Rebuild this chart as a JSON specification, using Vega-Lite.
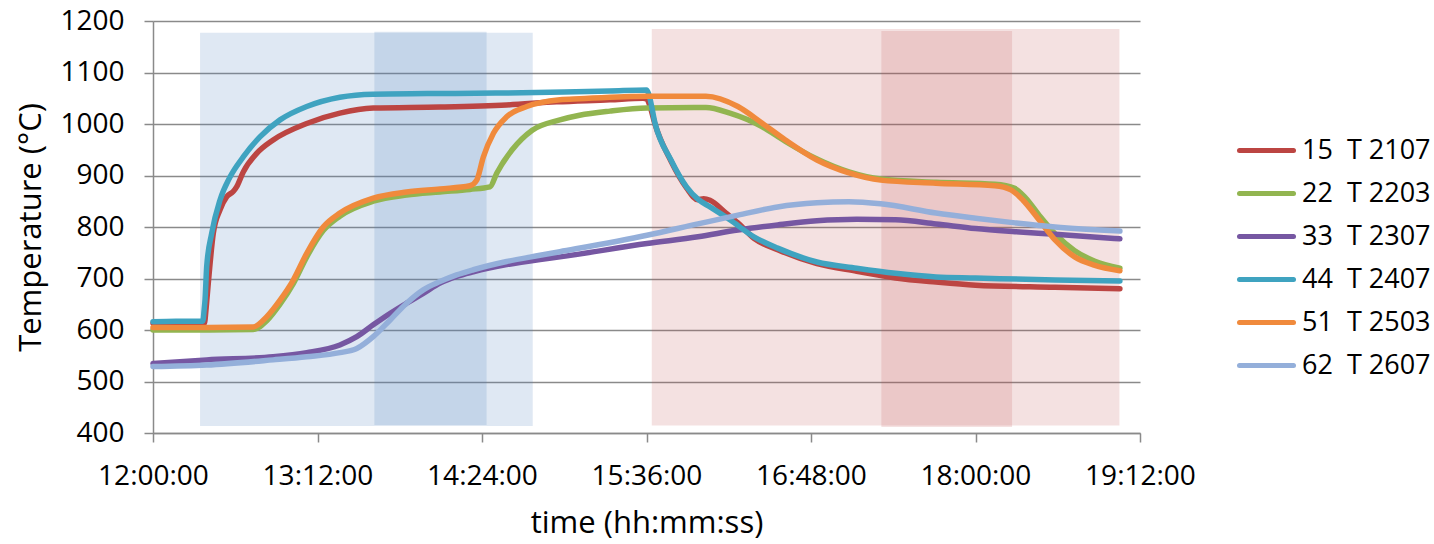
{
  "$schema": "https://vega.github.io/schema/vega-lite/v6.json",
  "width": 987,
  "height": 412,
  "autosize": {"type": "none"},
  "padding": {"left": 153, "top": 21, "right": 294, "bottom": 111},
  "background": "white",
  "config": {
    "view": {"stroke": null},
    "font": "Open Sans",
    "axis": {
      "labelFont": "Open Sans",
      "titleFont": "Open Sans",
      "labelFontSize": 28,
      "titleFontSize": 31,
      "titleFontWeight": "normal",
      "labelColor": "#000000",
      "titleColor": "#000000",
      "domainColor": "#8a8a8a",
      "domainWidth": 1.5,
      "tickColor": "#8a8a8a",
      "tickWidth": 1.5,
      "tickSize": 9,
      "labelPadding": 20,
      "gridColor": "#8a8a8a",
      "gridWidth": 1.4,
      "labelOverlap": false,
      "labelFlush": false
    },
    "legend": {
      "labelFont": "Open Sans",
      "labelFontSize": 27,
      "labelColor": "#000000",
      "labelLimit": 400
    }
  },
  "datasets": {
    "zones": [
      {"zone": "heat", "t0": 20.6, "t1": 166.2, "lo": 413.6, "hi": 1177},
      {"zone": "heatcore", "t0": 96.9, "t1": 146.0, "lo": 415.5, "hi": 1179},
      {"zone": "cool", "t0": 218.3, "t1": 423, "lo": 414.4, "hi": 1184.5},
      {"zone": "coolcore", "t0": 318.8, "t1": 376, "lo": 411.7, "hi": 1180.6}
    ],
    "temps": [
      {"s": "15\u00a0\u00a0T 2107", "t": 0, "v": 613},
      {"s": "15\u00a0\u00a0T 2107", "t": 10, "v": 613},
      {"s": "15\u00a0\u00a0T 2107", "t": 22.5, "v": 613},
      {"s": "15\u00a0\u00a0T 2107", "t": 23.2, "v": 640},
      {"s": "15\u00a0\u00a0T 2107", "t": 24.2, "v": 691},
      {"s": "15\u00a0\u00a0T 2107", "t": 26.4, "v": 788},
      {"s": "15\u00a0\u00a0T 2107", "t": 29.3, "v": 833},
      {"s": "15\u00a0\u00a0T 2107", "t": 32.3, "v": 859},
      {"s": "15\u00a0\u00a0T 2107", "t": 35.1, "v": 869},
      {"s": "15\u00a0\u00a0T 2107", "t": 36.6, "v": 878},
      {"s": "15\u00a0\u00a0T 2107", "t": 39.5, "v": 907},
      {"s": "15\u00a0\u00a0T 2107", "t": 45.4, "v": 943},
      {"s": "15\u00a0\u00a0T 2107", "t": 52.6, "v": 969},
      {"s": "15\u00a0\u00a0T 2107", "t": 67.3, "v": 1001},
      {"s": "15\u00a0\u00a0T 2107", "t": 81.8, "v": 1021},
      {"s": "15\u00a0\u00a0T 2107", "t": 96.4, "v": 1031},
      {"s": "15\u00a0\u00a0T 2107", "t": 125.6, "v": 1033},
      {"s": "15\u00a0\u00a0T 2107", "t": 154.8, "v": 1037},
      {"s": "15\u00a0\u00a0T 2107", "t": 176.7, "v": 1043},
      {"s": "15\u00a0\u00a0T 2107", "t": 200, "v": 1047},
      {"s": "15\u00a0\u00a0T 2107", "t": 214.5, "v": 1050},
      {"s": "15\u00a0\u00a0T 2107", "t": 216, "v": 1049},
      {"s": "15\u00a0\u00a0T 2107", "t": 217.5, "v": 1035},
      {"s": "15\u00a0\u00a0T 2107", "t": 219.7, "v": 1000},
      {"s": "15\u00a0\u00a0T 2107", "t": 226.7, "v": 928},
      {"s": "15\u00a0\u00a0T 2107", "t": 233.5, "v": 876},
      {"s": "15\u00a0\u00a0T 2107", "t": 238.5, "v": 853},
      {"s": "15\u00a0\u00a0T 2107", "t": 241, "v": 855},
      {"s": "15\u00a0\u00a0T 2107", "t": 243.8, "v": 852},
      {"s": "15\u00a0\u00a0T 2107", "t": 250.8, "v": 827},
      {"s": "15\u00a0\u00a0T 2107", "t": 256, "v": 808},
      {"s": "15\u00a0\u00a0T 2107", "t": 263, "v": 778},
      {"s": "15\u00a0\u00a0T 2107", "t": 273.4, "v": 756},
      {"s": "15\u00a0\u00a0T 2107", "t": 290.6, "v": 729},
      {"s": "15\u00a0\u00a0T 2107", "t": 308, "v": 714},
      {"s": "15\u00a0\u00a0T 2107", "t": 325, "v": 701},
      {"s": "15\u00a0\u00a0T 2107", "t": 342.7, "v": 693},
      {"s": "15\u00a0\u00a0T 2107", "t": 360, "v": 687},
      {"s": "15\u00a0\u00a0T 2107", "t": 394.8, "v": 683},
      {"s": "15\u00a0\u00a0T 2107", "t": 423.2, "v": 680},

      {"s": "22\u00a0\u00a0T 2203", "t": 0, "v": 600},
      {"s": "22\u00a0\u00a0T 2203", "t": 20, "v": 600},
      {"s": "22\u00a0\u00a0T 2203", "t": 43.8, "v": 601},
      {"s": "22\u00a0\u00a0T 2203", "t": 49.8, "v": 618},
      {"s": "22\u00a0\u00a0T 2203", "t": 55.6, "v": 650},
      {"s": "22\u00a0\u00a0T 2203", "t": 61.4, "v": 690},
      {"s": "22\u00a0\u00a0T 2203", "t": 67.3, "v": 742},
      {"s": "22\u00a0\u00a0T 2203", "t": 74.5, "v": 793},
      {"s": "22\u00a0\u00a0T 2203", "t": 81.8, "v": 821},
      {"s": "22\u00a0\u00a0T 2203", "t": 96.4, "v": 850},
      {"s": "22\u00a0\u00a0T 2203", "t": 111, "v": 862},
      {"s": "22\u00a0\u00a0T 2203", "t": 125.6, "v": 868},
      {"s": "22\u00a0\u00a0T 2203", "t": 138.7, "v": 873},
      {"s": "22\u00a0\u00a0T 2203", "t": 147.5, "v": 878},
      {"s": "22\u00a0\u00a0T 2203", "t": 150.5, "v": 905},
      {"s": "22\u00a0\u00a0T 2203", "t": 157.2, "v": 950},
      {"s": "22\u00a0\u00a0T 2203", "t": 166, "v": 988},
      {"s": "22\u00a0\u00a0T 2203", "t": 178.1, "v": 1008},
      {"s": "22\u00a0\u00a0T 2203", "t": 186.7, "v": 1017},
      {"s": "22\u00a0\u00a0T 2203", "t": 200, "v": 1025},
      {"s": "22\u00a0\u00a0T 2203", "t": 216.2, "v": 1031},
      {"s": "22\u00a0\u00a0T 2203", "t": 242, "v": 1032},
      {"s": "22\u00a0\u00a0T 2203", "t": 252.5, "v": 1021},
      {"s": "22\u00a0\u00a0T 2203", "t": 266.5, "v": 995},
      {"s": "22\u00a0\u00a0T 2203", "t": 276.8, "v": 966},
      {"s": "22\u00a0\u00a0T 2203", "t": 290.6, "v": 932},
      {"s": "22\u00a0\u00a0T 2203", "t": 304.6, "v": 907},
      {"s": "22\u00a0\u00a0T 2203", "t": 318.5, "v": 893},
      {"s": "22\u00a0\u00a0T 2203", "t": 342.7, "v": 887},
      {"s": "22\u00a0\u00a0T 2203", "t": 368.5, "v": 883},
      {"s": "22\u00a0\u00a0T 2203", "t": 377.2, "v": 875},
      {"s": "22\u00a0\u00a0T 2203", "t": 382, "v": 856},
      {"s": "22\u00a0\u00a0T 2203", "t": 388, "v": 822},
      {"s": "22\u00a0\u00a0T 2203", "t": 395, "v": 786},
      {"s": "22\u00a0\u00a0T 2203", "t": 403.4, "v": 754},
      {"s": "22\u00a0\u00a0T 2203", "t": 412, "v": 734},
      {"s": "22\u00a0\u00a0T 2203", "t": 423.2, "v": 720},

      {"s": "33\u00a0\u00a0T 2307", "t": 0, "v": 535},
      {"s": "33\u00a0\u00a0T 2307", "t": 23.5, "v": 542},
      {"s": "33\u00a0\u00a0T 2307", "t": 52.6, "v": 548},
      {"s": "33\u00a0\u00a0T 2307", "t": 67.3, "v": 556},
      {"s": "33\u00a0\u00a0T 2307", "t": 81.8, "v": 571},
      {"s": "33\u00a0\u00a0T 2307", "t": 89.2, "v": 587},
      {"s": "33\u00a0\u00a0T 2307", "t": 96.4, "v": 610},
      {"s": "33\u00a0\u00a0T 2307", "t": 103.7, "v": 632},
      {"s": "33\u00a0\u00a0T 2307", "t": 111, "v": 652},
      {"s": "33\u00a0\u00a0T 2307", "t": 118.3, "v": 671},
      {"s": "33\u00a0\u00a0T 2307", "t": 125.6, "v": 691},
      {"s": "33\u00a0\u00a0T 2307", "t": 132.9, "v": 704},
      {"s": "33\u00a0\u00a0T 2307", "t": 140.2, "v": 713},
      {"s": "33\u00a0\u00a0T 2307", "t": 154.8, "v": 727},
      {"s": "33\u00a0\u00a0T 2307", "t": 169.4, "v": 737},
      {"s": "33\u00a0\u00a0T 2307", "t": 178.1, "v": 742},
      {"s": "33\u00a0\u00a0T 2307", "t": 216.2, "v": 768},
      {"s": "33\u00a0\u00a0T 2307", "t": 238.5, "v": 781},
      {"s": "33\u00a0\u00a0T 2307", "t": 256, "v": 794},
      {"s": "33\u00a0\u00a0T 2307", "t": 273.4, "v": 804},
      {"s": "33\u00a0\u00a0T 2307", "t": 290.6, "v": 812},
      {"s": "33\u00a0\u00a0T 2307", "t": 308, "v": 815},
      {"s": "33\u00a0\u00a0T 2307", "t": 325, "v": 814},
      {"s": "33\u00a0\u00a0T 2307", "t": 342.7, "v": 806},
      {"s": "33\u00a0\u00a0T 2307", "t": 360, "v": 797},
      {"s": "33\u00a0\u00a0T 2307", "t": 377.3, "v": 791},
      {"s": "33\u00a0\u00a0T 2307", "t": 394.8, "v": 786},
      {"s": "33\u00a0\u00a0T 2307", "t": 423.2, "v": 777},

      {"s": "44\u00a0\u00a0T 2407", "t": 0, "v": 616},
      {"s": "44\u00a0\u00a0T 2407", "t": 10, "v": 617},
      {"s": "44\u00a0\u00a0T 2407", "t": 21.8, "v": 617},
      {"s": "44\u00a0\u00a0T 2407", "t": 22.4, "v": 640},
      {"s": "44\u00a0\u00a0T 2407", "t": 22.8, "v": 660},
      {"s": "44\u00a0\u00a0T 2407", "t": 23.5, "v": 723},
      {"s": "44\u00a0\u00a0T 2407", "t": 25.7, "v": 788},
      {"s": "44\u00a0\u00a0T 2407", "t": 29.3, "v": 852},
      {"s": "44\u00a0\u00a0T 2407", "t": 33.7, "v": 897},
      {"s": "44\u00a0\u00a0T 2407", "t": 39.5, "v": 936},
      {"s": "44\u00a0\u00a0T 2407", "t": 46.8, "v": 975},
      {"s": "44\u00a0\u00a0T 2407", "t": 55.6, "v": 1008},
      {"s": "44\u00a0\u00a0T 2407", "t": 67.3, "v": 1034},
      {"s": "44\u00a0\u00a0T 2407", "t": 81.8, "v": 1052},
      {"s": "44\u00a0\u00a0T 2407", "t": 96.4, "v": 1058},
      {"s": "44\u00a0\u00a0T 2407", "t": 120, "v": 1059},
      {"s": "44\u00a0\u00a0T 2407", "t": 150, "v": 1060},
      {"s": "44\u00a0\u00a0T 2407", "t": 180, "v": 1062},
      {"s": "44\u00a0\u00a0T 2407", "t": 200, "v": 1064},
      {"s": "44\u00a0\u00a0T 2407", "t": 216, "v": 1066},
      {"s": "44\u00a0\u00a0T 2407", "t": 217, "v": 1058},
      {"s": "44\u00a0\u00a0T 2407", "t": 219.7, "v": 1002},
      {"s": "44\u00a0\u00a0T 2407", "t": 226.7, "v": 930},
      {"s": "44\u00a0\u00a0T 2407", "t": 233.5, "v": 878},
      {"s": "44\u00a0\u00a0T 2407", "t": 238.5, "v": 854},
      {"s": "44\u00a0\u00a0T 2407", "t": 243.8, "v": 839},
      {"s": "44\u00a0\u00a0T 2407", "t": 252.5, "v": 814},
      {"s": "44\u00a0\u00a0T 2407", "t": 263, "v": 781},
      {"s": "44\u00a0\u00a0T 2407", "t": 273.4, "v": 759},
      {"s": "44\u00a0\u00a0T 2407", "t": 290.6, "v": 732},
      {"s": "44\u00a0\u00a0T 2407", "t": 308, "v": 720},
      {"s": "44\u00a0\u00a0T 2407", "t": 325, "v": 710},
      {"s": "44\u00a0\u00a0T 2407", "t": 342.7, "v": 703},
      {"s": "44\u00a0\u00a0T 2407", "t": 360, "v": 701},
      {"s": "44\u00a0\u00a0T 2407", "t": 394.8, "v": 697},
      {"s": "44\u00a0\u00a0T 2407", "t": 423.2, "v": 695},

      {"s": "51\u00a0\u00a0T 2503", "t": 0, "v": 605},
      {"s": "51\u00a0\u00a0T 2503", "t": 20, "v": 605},
      {"s": "51\u00a0\u00a0T 2503", "t": 43.8, "v": 606},
      {"s": "51\u00a0\u00a0T 2503", "t": 49.8, "v": 626},
      {"s": "51\u00a0\u00a0T 2503", "t": 55.6, "v": 658},
      {"s": "51\u00a0\u00a0T 2503", "t": 61.4, "v": 697},
      {"s": "51\u00a0\u00a0T 2503", "t": 67.3, "v": 749},
      {"s": "51\u00a0\u00a0T 2503", "t": 74.5, "v": 800},
      {"s": "51\u00a0\u00a0T 2503", "t": 81.8, "v": 827},
      {"s": "51\u00a0\u00a0T 2503", "t": 96.4, "v": 856},
      {"s": "51\u00a0\u00a0T 2503", "t": 111, "v": 868},
      {"s": "51\u00a0\u00a0T 2503", "t": 125.6, "v": 874},
      {"s": "51\u00a0\u00a0T 2503", "t": 138.7, "v": 880},
      {"s": "51\u00a0\u00a0T 2503", "t": 141.7, "v": 891},
      {"s": "51\u00a0\u00a0T 2503", "t": 144.6, "v": 936},
      {"s": "51\u00a0\u00a0T 2503", "t": 149, "v": 982},
      {"s": "51\u00a0\u00a0T 2503", "t": 154.8, "v": 1014},
      {"s": "51\u00a0\u00a0T 2503", "t": 163.6, "v": 1034},
      {"s": "51\u00a0\u00a0T 2503", "t": 178.1, "v": 1047},
      {"s": "51\u00a0\u00a0T 2503", "t": 186.7, "v": 1049},
      {"s": "51\u00a0\u00a0T 2503", "t": 216.2, "v": 1054},
      {"s": "51\u00a0\u00a0T 2503", "t": 242, "v": 1054},
      {"s": "51\u00a0\u00a0T 2503", "t": 256, "v": 1034},
      {"s": "51\u00a0\u00a0T 2503", "t": 266.5, "v": 1002},
      {"s": "51\u00a0\u00a0T 2503", "t": 276.8, "v": 969},
      {"s": "51\u00a0\u00a0T 2503", "t": 290.6, "v": 930},
      {"s": "51\u00a0\u00a0T 2503", "t": 304.6, "v": 905},
      {"s": "51\u00a0\u00a0T 2503", "t": 318.5, "v": 891},
      {"s": "51\u00a0\u00a0T 2503", "t": 342.7, "v": 885},
      {"s": "51\u00a0\u00a0T 2503", "t": 368.5, "v": 880},
      {"s": "51\u00a0\u00a0T 2503", "t": 375.5, "v": 872},
      {"s": "51\u00a0\u00a0T 2503", "t": 380.8, "v": 852},
      {"s": "51\u00a0\u00a0T 2503", "t": 387.8, "v": 814},
      {"s": "51\u00a0\u00a0T 2503", "t": 394.8, "v": 775},
      {"s": "51\u00a0\u00a0T 2503", "t": 403.4, "v": 742},
      {"s": "51\u00a0\u00a0T 2503", "t": 411.9, "v": 726},
      {"s": "51\u00a0\u00a0T 2503", "t": 423.2, "v": 715},

      {"s": "62\u00a0\u00a0T 2607", "t": 0, "v": 529},
      {"s": "62\u00a0\u00a0T 2607", "t": 23.5, "v": 532},
      {"s": "62\u00a0\u00a0T 2607", "t": 52.6, "v": 542},
      {"s": "62\u00a0\u00a0T 2607", "t": 67.3, "v": 548},
      {"s": "62\u00a0\u00a0T 2607", "t": 81.8, "v": 556},
      {"s": "62\u00a0\u00a0T 2607", "t": 89.2, "v": 564},
      {"s": "62\u00a0\u00a0T 2607", "t": 96.4, "v": 587},
      {"s": "62\u00a0\u00a0T 2607", "t": 103.7, "v": 619},
      {"s": "62\u00a0\u00a0T 2607", "t": 111, "v": 652},
      {"s": "62\u00a0\u00a0T 2607", "t": 118.3, "v": 678},
      {"s": "62\u00a0\u00a0T 2607", "t": 125.6, "v": 694},
      {"s": "62\u00a0\u00a0T 2607", "t": 132.9, "v": 707},
      {"s": "62\u00a0\u00a0T 2607", "t": 140.2, "v": 717},
      {"s": "62\u00a0\u00a0T 2607", "t": 154.8, "v": 733},
      {"s": "62\u00a0\u00a0T 2607", "t": 169.4, "v": 745},
      {"s": "62\u00a0\u00a0T 2607", "t": 178.1, "v": 752},
      {"s": "62\u00a0\u00a0T 2607", "t": 216.2, "v": 784},
      {"s": "62\u00a0\u00a0T 2607", "t": 238.5, "v": 806},
      {"s": "62\u00a0\u00a0T 2607", "t": 256, "v": 823},
      {"s": "62\u00a0\u00a0T 2607", "t": 273.4, "v": 839},
      {"s": "62\u00a0\u00a0T 2607", "t": 290.6, "v": 847},
      {"s": "62\u00a0\u00a0T 2607", "t": 304.6, "v": 849},
      {"s": "62\u00a0\u00a0T 2607", "t": 318.5, "v": 845},
      {"s": "62\u00a0\u00a0T 2607", "t": 342.7, "v": 827},
      {"s": "62\u00a0\u00a0T 2607", "t": 360, "v": 817},
      {"s": "62\u00a0\u00a0T 2607", "t": 377.3, "v": 808},
      {"s": "62\u00a0\u00a0T 2607", "t": 394.8, "v": 800},
      {"s": "62\u00a0\u00a0T 2607", "t": 423.2, "v": 792}
    ]
  },
  "layer": [
    {
      "data": {"name": "zones"},
      "transform": [{"filter": "datum.zone == 'heat' || datum.zone == 'heatcore'"}],
      "mark": {"type": "rect", "color": "#4F81BD", "opacity": 0.18},
      "encoding": {
        "x": {
          "field": "t0",
          "type": "quantitative",
          "title": "time (hh:mm:ss)",
          "scale": {"domain": [0, 432], "nice": false, "zero": false},
          "axis": {
            "values": [0, 72, 144, 216, 288, 360, 432],
            "labelExpr": "timeFormat(datetime(2000, 0, 1, 12, datum.value, 0, 0), '%H:%M:%S')",
            "grid": false,
            "titlePadding": 18
          }
        },
        "x2": {"field": "t1"},
        "y": {
          "field": "lo",
          "type": "quantitative",
          "title": "Temperature (°C)",
          "scale": {"domain": [400, 1200], "nice": false, "zero": false},
          "axis": {
            "values": [400, 500, 600, 700, 800, 900, 1000, 1100, 1200],
            "format": "d",
            "grid": true,
            "titlePadding": 12
          }
        },
        "y2": {"field": "hi"}
      }
    },
    {
      "data": {"name": "zones"},
      "transform": [{"filter": "datum.zone == 'cool' || datum.zone == 'coolcore'"}],
      "mark": {"type": "rect", "color": "#C0504D", "opacity": 0.17},
      "encoding": {
        "x": {"field": "t0", "type": "quantitative", "title": "time (hh:mm:ss)"},
        "x2": {"field": "t1"},
        "y": {"field": "lo", "type": "quantitative", "title": "Temperature (°C)"},
        "y2": {"field": "hi"}
      }
    },
    {
      "data": {"name": "temps"},
      "mark": {"type": "line", "strokeWidth": 5.5, "strokeJoin": "round", "strokeCap": "round", "interpolate": "monotone"},
      "encoding": {
        "x": {"field": "t", "type": "quantitative", "title": "time (hh:mm:ss)"},
        "y": {"field": "v", "type": "quantitative", "title": "Temperature (°C)"},
        "color": {
          "field": "s",
          "type": "nominal",
          "scale": {
            "domain": ["15\u00a0\u00a0T 2107", "22\u00a0\u00a0T 2203", "33\u00a0\u00a0T 2307", "44\u00a0\u00a0T 2407", "51\u00a0\u00a0T 2503", "62\u00a0\u00a0T 2607"],
            "range": ["#BC4542", "#92B550", "#7657A2", "#3FA3C0", "#F08A3C", "#94AFDA"]
          },
          "legend": {
            "title": null,
            "orient": "none",
            "legendX": 1084,
            "legendY": 100,
            "padding": 0,
            "symbolType": "stroke",
            "symbolSize": 2916,
            "symbolStrokeWidth": 5,
            "labelOffset": 6,
            "rowPadding": 0,
            "encode": {"symbols": {"update": {"strokeCap": {"value": "round"}}}}
          }
        }
      }
    }
  ]
}
